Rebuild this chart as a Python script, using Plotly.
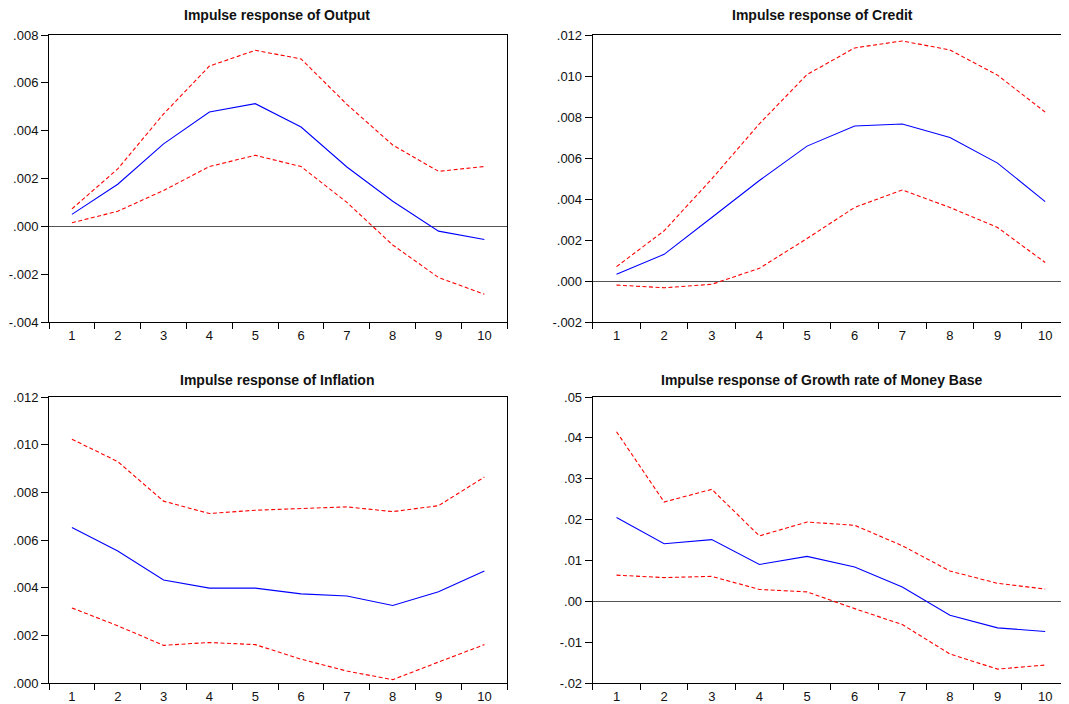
import plotly.graph_objects as go

periods = [1, 2, 3, 4, 5, 6, 7, 8, 9, 10]

output_resp = [0.00050, 0.00176, 0.00345, 0.00478, 0.00513, 0.00415, 0.00248, 0.00105, -0.00020, -0.00055]
output_up = [0.00073, 0.00240, 0.00470, 0.00670, 0.00736, 0.00700, 0.00510, 0.00340, 0.00230, 0.00250]
output_lo = [0.00015, 0.00063, 0.00150, 0.00250, 0.00297, 0.00250, 0.00100, -0.00078, -0.00214, -0.00284]

credit_resp = [0.00033, 0.00130, 0.00310, 0.00490, 0.00658, 0.00756, 0.00766, 0.00700, 0.00575, 0.00387]
credit_up = [0.00070, 0.00245, 0.00498, 0.00767, 0.01007, 0.01137, 0.01171, 0.01127, 0.01004, 0.00824]
credit_lo = [-0.00020, -0.00033, -0.00016, 0.00062, 0.00207, 0.00359, 0.00444, 0.00359, 0.00261, 0.00090]

infl_resp = [0.00652, 0.00554, 0.00432, 0.00398, 0.00398, 0.00374, 0.00365, 0.00325, 0.00383, 0.00470]
infl_up = [0.01023, 0.00929, 0.00763, 0.00711, 0.00725, 0.00732, 0.00739, 0.00719, 0.00744, 0.00864]
infl_lo = [0.00315, 0.00240, 0.00158, 0.00170, 0.00161, 0.00100, 0.00050, 0.00014, 0.00088, 0.00161]

money_resp = [0.0205, 0.0141, 0.0151, 0.0090, 0.0110, 0.0084, 0.0035, -0.0034, -0.0065, -0.0074]
money_up = [0.0415, 0.0243, 0.0274, 0.0160, 0.0194, 0.0186, 0.0136, 0.0074, 0.0044, 0.0030]
money_lo = [0.0064, 0.0058, 0.0061, 0.0029, 0.0023, -0.0018, -0.0057, -0.0129, -0.0166, -0.0156]

titles = ["Impulse response of Output", "Impulse response of Credit",
          "Impulse response of Inflation", "Impulse response of Growth rate of Money Base"]

out_ticks = [-0.004, -0.002, 0.0, 0.002, 0.004, 0.006, 0.008]
out_text = ["-.004", "-.002", ".000", ".002", ".004", ".006", ".008"]
cred_ticks = [-0.002, 0.0, 0.002, 0.004, 0.006, 0.008, 0.010, 0.012]
cred_text = ["-.002", ".000", ".002", ".004", ".006", ".008", ".010", ".012"]
infl_ticks = [0.0, 0.002, 0.004, 0.006, 0.008, 0.010, 0.012]
infl_text = [".000", ".002", ".004", ".006", ".008", ".010", ".012"]
money_ticks = [-0.02, -0.01, 0.0, 0.01, 0.02, 0.03, 0.04, 0.05]
money_text = ["-.02", "-.01", ".00", ".01", ".02", ".03", ".04", ".05"]

panels = [
    (output_resp, output_up, output_lo, out_ticks, out_text, [-0.004, 0.008]),
    (credit_resp, credit_up, credit_lo, cred_ticks, cred_text, [-0.002, 0.012]),
    (infl_resp, infl_up, infl_lo, infl_ticks, infl_text, [0.0, 0.012]),
    (money_resp, money_up, money_lo, money_ticks, money_text, [-0.02, 0.05]),
]

# the page body has an 8px margin, so the figure is drawn 8px in from the window corner
W, H = 1061, 696
xdoms = [[41 / W, 499.3 / W], [584.7 / W, 1.0]]
ydoms = [[1 - 314 / H, 1 - 27 / H], [1 - 675 / H, 1 - 389 / H]]
title_pos = [(269, 7), (814, 7), (269, 372), (814, 372)]

FONT = "Liberation Sans, Arial, sans-serif"
fig = go.Figure()
layout = dict(width=W, height=H, margin=dict(l=0, r=0, t=0, b=0, autoexpand=False),
              paper_bgcolor="white", plot_bgcolor="white", showlegend=False,
              font=dict(family=FONT, size=12, color="#111"))
annotations = []
for i, (resp, up, lo, tv, tt, yr) in enumerate(panels):
    n = "" if i == 0 else str(i + 1)
    xa, ya = "x" + n, "y" + n
    for ys, col, dash in [(up, "#ff0000", "4px,2.5px"), (lo, "#ff0000", "4px,2.5px"), (resp, "#0000ff", "solid")]:
        fig.add_trace(go.Scatter(x=periods, y=ys, mode="lines", xaxis=xa, yaxis=ya,
                                 line=dict(color=col, width=1.1, dash=dash), hoverinfo="skip"))
    r, c = divmod(i, 2)
    layout["xaxis" + n] = dict(domain=xdoms[c], anchor=ya, range=[0.5, 10.5], automargin=False,
                               tickvals=periods, ticktext=[str(p) for p in periods],
                               ticks="", ticklabelstandoff=1, showgrid=False, zeroline=False,
                               showline=True, linecolor="#000", linewidth=1, mirror=True,
                               tickfont=dict(size=13, color="#111"),
                               minor=dict(tick0=0.5, dtick=1, ticks="outside", ticklen=6,
                                          tickcolor="#000", tickwidth=1, showgrid=False))
    layout["yaxis" + n] = dict(domain=ydoms[r], anchor=xa, range=yr, tickvals=tv, ticktext=tt,
                               automargin=False,
                               ticks="outside", ticklen=7, tickcolor="#000", tickwidth=1,
                               showgrid=False, zeroline=True, zerolinecolor="#555", zerolinewidth=1,
                               showline=True, linecolor="#000", linewidth=1, mirror=True,
                               tickfont=dict(size=13, color="#111"))
    tx, ty = title_pos[i]
    annotations.append(dict(text="<b>" + titles[i] + "</b>", x=tx / W, y=1 - ty / H,
                            xref="paper", yref="paper", showarrow=False,
                            xanchor="center", yanchor="middle",
                            font=dict(family=FONT, size=14, color="#111")))
layout["annotations"] = annotations
fig.update_layout(**layout)
fig.write_html("out.html")
